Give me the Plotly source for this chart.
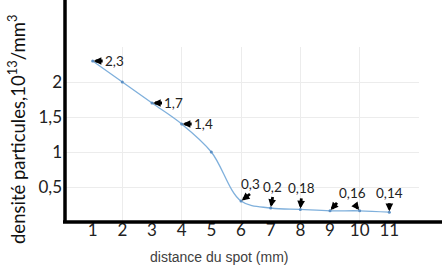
import plotly.graph_objects as go

# Data
distance = [1, 2, 3, 4, 5, 6, 7, 8, 9, 10, 11]
densite = [2.3, 2.0, 1.7, 1.4, 1.0, 0.3, 0.2, 0.18, 0.16, 0.16, 0.14]
x_ticks = [1, 2, 3, 4, 5, 6, 7, 8, 9, 10, 11]
y_ticks = [0.5, 1, 1.5, 2, 2.5]
y_ticktext = ["0,5", "1", "1,5", "2", ""]

# Labels: (x, y, text, ax, ay, xanchor, yanchor)
labels = [
    (1, 2.3, "2,3", 10, 0, "left", "middle"),
    (3, 1.7, "1,7", 10, 0, "left", "middle"),
    (4, 1.4, "1,4", 10, 0, "left", "middle"),
    (6, 0.3, "0,3", 9, -7, "center", "bottom"),
    (7, 0.2, "0,2", 2, -11, "center", "bottom"),
    (8, 0.18, "0,18", 1, -11, "center", "bottom"),
    (9, 0.16, "0,16", 7, -8, "left", "bottom"),
    (11, 0.14, "0,14", 0, -9, "center", "bottom"),
]

fig = go.Figure()
fig.add_trace(go.Scatter(
    x=distance, y=densite, mode="lines+markers",
    line=dict(color="#7fb0dc", width=1.3, shape="spline", smoothing=1),
    marker=dict(size=3, color="#5b8fc4"),
    hoverinfo="skip", showlegend=False,
))

annotations = []
for (x, y, t, ax, ay, xa, ya) in labels:
    annotations.append(dict(
        x=x, y=y, xref="x", yref="y", text=t, showarrow=True,
        ax=ax, ay=ay, xanchor=xa, yanchor=ya,
        arrowhead=2, arrowsize=0.55, arrowwidth=2.8, arrowcolor="black",
        standoff=1, font=dict(family="Lato", size=13.5, color="#222222"),
    ))
# second arrow for 0,16 label
annotations.append(dict(
    x=10, y=0.16, xref="x", yref="y", text="", showarrow=True,
    ax=-6, ay=-8, arrowhead=2, arrowsize=0.55, arrowwidth=2.8,
    arrowcolor="black", standoff=1,
))
# axis titles
annotations.append(dict(
    x=(219 - 63) / 356, y=(222 - 257) / 175, xref="paper", yref="paper",
    xanchor="center", yanchor="middle",
    text="distance du spot (mm)", showarrow=False,
    font=dict(family="Liberation Sans", size=14, color="#404040"),
))
annotations.append(dict(
    x=(16 - 63) / 356, y=(222 - 130) / 175, xref="paper", yref="paper",
    xanchor="center", yanchor="middle",
    text="densité particules,10<sup>13</sup>/mm<sup>3</sup>", showarrow=False,
    textangle=-90, font=dict(family="Lato", size=18.5, color="#111111"),
))

shapes = [
    dict(type="line", xref="paper", yref="paper", x0=(65 - 63) / 356, x1=(65 - 63) / 356,
         y0=0, y1=1.3, line=dict(color="black", width=3.5)),
    dict(type="line", xref="paper", yref="paper", x0=0, x1=1.1,
         y0=0, y1=0, line=dict(color="black", width=3.5)),
]

fig.update_layout(
    width=442, height=269,
    margin=dict(l=63, r=23, t=47, b=47),
    paper_bgcolor="white", plot_bgcolor="white",
    annotations=annotations, shapes=shapes,
    xaxis=dict(range=[0, 12], tickvals=x_ticks, ticktext=[str(v) for v in x_ticks],
               showgrid=False, zeroline=False, showline=False, ticks="",
               ticklabelstandoff=-4,
               tickfont=dict(family="Lato", size=17, color="#222222"),
               minor=dict(tickvals=[2, 4, 6, 8, 10, 12], showgrid=True,
                          gridcolor="#ececec", gridwidth=1, ticks="")),
    yaxis=dict(range=[0, 2.5], tickvals=y_ticks, ticktext=y_ticktext,
               showgrid=True, gridcolor="#ececec", gridwidth=1,
               zeroline=False, showline=False, ticks="",
               tickfont=dict(family="Lato", size=17, color="#222222")),
)

fig.write_html("out.html")
